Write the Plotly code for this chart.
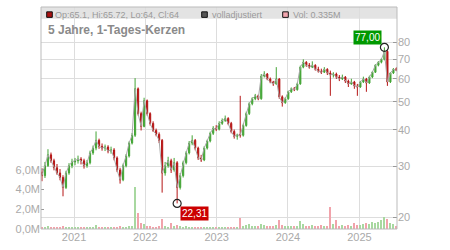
import math
import pandas as pd
import plotly.graph_objects as go

# ---------------- data ----------------
dates = pd.date_range("2020-07-21", "2025-07-09", periods=119)

opens = [28.6, 27.8, 30.1, 32.8, 31.3, 29.6, 28.4, 27.4, 25.3, 28.4,
         30.1, 31.0, 31.3, 31.7, 31.3, 30.1, 30.8, 33.3, 34.6, 36.8,
         35.1, 34.6, 34.9, 33.8, 34.1, 32.0, 29.1, 26.9, 30.1, 32.5,
         36.0, 38.3, 55.4, 45.5, 41.1, 50.4, 45.5, 42.1, 39.8, 38.6,
         36.8, 28.4, 30.1, 31.3, 29.1, 30.8, 25.3, 27.8, 30.8, 33.3,
         36.0, 36.8, 34.6, 32.0, 31.5, 34.6, 36.6, 38.9, 40.5, 40.2,
         42.1, 43.1, 43.8, 42.1, 39.5, 38.0, 38.6, 38.3, 41.4, 45.5,
         49.2, 51.2, 52.4, 51.2, 61.3, 62.3, 59.9, 58.5, 57.6, 59.9,
         52.0, 49.6, 51.2, 54.1, 55.4, 55.0, 57.6, 65.8, 68.4, 66.8,
         65.8, 66.8, 64.7, 63.7, 63.2, 64.7, 62.8, 61.8, 62.3, 60.8,
         59.9, 60.8, 58.9, 57.6, 58.5, 56.7, 56.2, 58.5, 59.9, 58.0,
         60.8, 63.2, 66.8, 68.4, 70.0, 74.6, 58.5, 62.8, 65.1]

highs = [29.5, 31.0, 34.3, 33.4, 31.8, 30.5, 29.3, 27.9, 28.9, 30.7,
         31.8, 32.0, 32.6, 32.2, 31.8, 31.5, 33.9, 35.3, 39.5, 37.3,
         35.9, 35.6, 35.4, 35.0, 34.6, 32.4, 29.6, 30.6, 33.0, 36.5,
         39.0, 60.3, 56.0, 46.2, 51.6, 50.9, 46.0, 42.8, 40.4, 39.2,
         37.2, 31.0, 32.3, 31.8, 32.0, 31.2, 28.4, 31.3, 33.8, 36.6,
         38.3, 37.2, 35.0, 32.8, 35.1, 37.0, 39.4, 41.2, 41.5, 42.8,
         43.8, 44.8, 44.2, 42.6, 40.1, 38.8, 52.4, 42.0, 46.2, 49.8,
         51.8, 53.2, 52.9, 62.3, 63.7, 62.8, 60.6, 59.0, 65.8, 60.3,
         52.6, 51.8, 54.6, 56.0, 56.2, 58.2, 66.6, 70.0, 69.0, 68.0,
         68.9, 67.3, 66.0, 65.0, 65.8, 65.2, 64.0, 63.2, 63.0, 61.8,
         62.0, 61.3, 59.6, 60.0, 59.0, 57.6, 59.0, 61.0, 60.4, 61.5,
         63.7, 67.3, 69.0, 70.6, 77.0, 75.2, 63.2, 65.3, 65.72]

lows = [26.6, 27.3, 29.8, 30.8, 29.0, 28.0, 26.8, 23.6, 25.0, 28.0,
        29.5, 30.2, 30.6, 30.4, 29.4, 29.6, 30.4, 32.8, 34.0, 34.4,
        33.9, 33.8, 33.2, 33.1, 31.4, 28.6, 26.1, 26.6, 29.7, 32.1,
        35.6, 37.8, 44.8, 39.8, 40.8, 44.8, 41.4, 39.3, 38.0, 36.0,
        24.3, 27.8, 29.6, 28.4, 28.7, 22.31, 24.9, 27.4, 30.4, 32.9,
        35.4, 34.0, 31.5, 31.0, 31.2, 34.2, 36.2, 38.4, 39.6, 39.8,
        41.6, 42.6, 41.5, 38.9, 37.3, 37.0, 37.6, 37.9, 41.0, 45.0,
        48.6, 50.6, 50.6, 50.8, 60.6, 59.3, 57.9, 56.7, 57.2, 51.2,
        48.1, 49.2, 50.8, 53.6, 54.4, 54.6, 57.2, 65.2, 66.0, 65.0,
        65.3, 64.0, 63.0, 62.3, 62.8, 61.8, 52.4, 60.6, 59.9, 58.9,
        59.4, 58.0, 56.2, 57.2, 55.4, 52.4, 55.8, 58.0, 54.1, 57.6,
        60.3, 62.8, 66.2, 67.8, 69.4, 56.7, 58.0, 62.3, 64.0]

closes = [27.8, 30.1, 32.8, 31.3, 29.6, 28.4, 27.4, 25.3, 28.4, 30.1,
          31.0, 31.3, 31.7, 31.3, 30.1, 30.8, 33.3, 34.6, 36.8, 35.1,
          34.6, 34.9, 33.8, 34.1, 32.0, 29.1, 26.9, 30.1, 32.5, 36.0,
          38.3, 55.4, 45.5, 41.1, 50.4, 45.5, 42.1, 39.8, 38.6, 36.8,
          28.4, 30.1, 31.3, 29.1, 30.8, 25.3, 27.8, 30.8, 33.3, 36.0,
          36.8, 34.6, 32.0, 31.5, 34.6, 36.6, 38.9, 40.5, 40.2, 42.1,
          43.1, 43.8, 42.1, 39.5, 38.0, 38.4, 38.3, 41.4, 45.5, 49.2,
          51.2, 52.4, 51.2, 61.3, 62.3, 59.9, 58.5, 57.6, 59.9, 52.0,
          49.6, 51.2, 54.1, 55.4, 55.0, 57.6, 65.8, 68.4, 66.8, 65.8,
          66.8, 64.7, 63.7, 63.2, 64.7, 62.8, 61.8, 62.3, 60.8, 59.9,
          60.8, 58.9, 57.6, 58.5, 56.7, 56.2, 58.5, 59.9, 58.0, 60.8,
          63.2, 66.8, 68.4, 70.0, 74.6, 58.5, 62.8, 64.7, 64.0]

volumes = [0.2, 0.25, 0.3, 0.15, 0.2, 0.15, 0.2, 0.3, 0.25, 0.2,
           0.15, 0.2, 0.2, 0.15, 0.2, 0.15, 0.25, 0.2, 0.45, 0.2,
           0.15, 0.2, 0.15, 0.2, 0.15, 0.2, 0.3, 0.2, 0.25, 0.3,
           0.35, 4.3, 1.6, 0.6, 0.5, 0.35, 0.3, 0.25, 0.2, 0.3,
           1.0, 0.3, 0.25, 0.6, 0.3, 0.45, 0.3, 0.25, 0.3, 0.25,
           0.2, 0.2, 0.25, 0.2, 0.2, 0.25, 0.2, 0.2, 0.15, 0.2,
           0.2, 0.2, 0.25, 0.2, 0.25, 0.2, 1.1, 0.35, 0.4, 0.5,
           0.3, 0.35, 0.3, 0.5, 0.4, 0.35, 0.3, 0.3, 0.45, 0.9,
           0.4, 0.3, 0.35, 0.3, 0.3, 0.35, 0.8, 0.5, 0.35, 0.3,
           0.4, 0.35, 0.3, 0.4, 0.35, 0.3, 2.2, 0.5, 0.9, 0.35,
           0.4, 0.3, 0.4, 0.35, 0.6, 0.4, 0.45, 0.5, 0.6, 0.5,
           0.7, 0.6, 0.7, 0.9, 1.2, 1.0, 0.6, 0.5, 0.335]

year_ticks = ["2021-01-01", "2022-01-01", "2023-01-01", "2024-01-01", "2025-01-01"]
year_labels = ["2021", "2022", "2023", "2024", "2025"]
price_ticks = [20, 30, 40, 50, 60, 70, 80]
vol_ticks = [0, 2, 4, 6]
vol_labels = ["0,0M", "2,0M", "4,0M", "6,0M"]
title_text = "5 Jahre, 1-Tages-Kerzen"
legend_ohlc = "Op:65.1, Hi:65.72, Lo:64, Cl:64"
legend_adj = "volladjustiert"
legend_vol = "Vol: 0.335M"

# ---------------- styles ----------------
UP = "#43a535"
DOWN = "#b51515"
VOL_UP = "#a8d8a0"
VOL_DOWN = "#f1a3ab"
FONT = "Liberation Sans, Arial, sans-serif"

W, H = 450, 250
ML, MR, MT, MB = 41, 53, 7, 18
PW, PH = W - ML - MR, H - MT - MB


def px(x):
    return (x - ML) / PW


def py(y):
    return (H - MB - y) / PH


fig = go.Figure()

vol_colors = [VOL_UP if c >= o else VOL_DOWN for o, c in zip(opens, closes)]
fig.add_trace(go.Bar(x=dates, y=volumes, yaxis="y",
                     marker=dict(color=vol_colors, line=dict(width=0)),
                     width=7 * 86400000, hoverinfo="skip"))

fig.add_trace(go.Scatter(x=dates, y=closes, yaxis="y2", mode="lines",
                         line=dict(color="#a8a8a8", width=1), hoverinfo="skip"))

fig.add_trace(go.Candlestick(
    x=dates, open=opens, high=highs, low=lows, close=closes, yaxis="y2",
    increasing=dict(line=dict(color=UP, width=1), fillcolor=UP),
    decreasing=dict(line=dict(color=DOWN, width=1), fillcolor=DOWN),
    whiskerwidth=0))

i_lo = min(range(len(lows)), key=lambda i: lows[i])
i_hi = max(range(len(highs)), key=lambda i: highs[i])
fig.add_trace(go.Scatter(
    x=[dates[i_lo], dates[i_hi]], y=[lows[i_lo], highs[i_hi]], yaxis="y2",
    mode="markers",
    marker=dict(symbol="circle-open", size=8, color="#222222", line=dict(width=1.2)),
    hoverinfo="skip"))

shapes = [
    # legend band
    dict(type="rect", xref="paper", yref="paper", x0=0, x1=1, y0=py(19), y1=1,
         fillcolor="#e3e3e3", line=dict(width=0), layer="below"),
    # plot border
    dict(type="rect", xref="paper", yref="paper", x0=0, x1=1, y0=0, y1=1,
         line=dict(color="#bbbbbb", width=1), layer="above"),
]
sq = [(46.7, "#aa1111"), (201.7, "#555555"), (282.7, "#f2a6ae")]
for x0, col in sq:
    shapes.append(dict(type="rect", xref="paper", yref="paper",
                       x0=px(x0), x1=px(x0 + 5.6), y0=py(17.5), y1=py(11.9),
                       fillcolor=col, line=dict(color="#111111", width=1), layer="above"))

annotations = [
    dict(text="<b>" + title_text + "</b>", xref="paper", yref="paper", x=px(46), y=py(30.5),
         xanchor="left", yanchor="middle", showarrow=False,
         font=dict(family=FONT, size=12, color="#8a8a8a")),
    dict(text=legend_ohlc, xref="paper", yref="paper", x=px(52.5), y=py(14.7),
         xanchor="left", yanchor="middle", showarrow=False,
         font=dict(family=FONT, size=9, color="#9a9a9a")),
    dict(text=legend_adj, xref="paper", yref="paper", x=px(209.5), y=py(14.7),
         xanchor="left", yanchor="middle", showarrow=False,
         font=dict(family=FONT, size=9, color="#9a9a9a")),
    dict(text=legend_vol, xref="paper", yref="paper", x=px(291), y=py(14.7),
         xanchor="left", yanchor="middle", showarrow=False,
         font=dict(family=FONT, size=9, color="#9a9a9a")),
    dict(text=f"{highs[i_hi]:.2f}".replace(".", ","), x=dates[i_hi], y=math.log10(highs[i_hi]),
         xref="x", yref="y2", xanchor="right", yanchor="bottom", xshift=-2, yshift=2,
         showarrow=False, bgcolor="#009900", borderpad=1,
         font=dict(family=FONT, size=10, color="white")),
    dict(text=f"{lows[i_lo]:.2f}".replace(".", ","), x=dates[i_lo], y=math.log10(lows[i_lo]),
         xref="x", yref="y2", xanchor="left", yanchor="top", xshift=3, yshift=-3,
         showarrow=False, bgcolor="#cc0000", borderpad=1,
         font=dict(family=FONT, size=10, color="white")),
]

lo_log = math.log10(20) - 12 / 294
hi_log = math.log10(20) + 213 / 294

fig.update_layout(
    width=W, height=H, margin=dict(l=ML, r=MR, t=MT, b=MB),
    paper_bgcolor="white", plot_bgcolor="white", showlegend=False,
    font=dict(family=FONT, size=11, color="#aaaaaa"),
    boxgap=0.45, bargap=0,
    xaxis=dict(type="date", range=["2020-07-16", "2025-07-12"],
               tickvals=year_ticks, ticktext=year_labels,
               showgrid=True, gridcolor="#dddddd", gridwidth=1,
               zeroline=False, showline=False, ticks="",
               rangeslider=dict(visible=False), tickfont=dict(size=11)),
    yaxis=dict(range=[0, 22.5], side="left", tickvals=vol_ticks, ticktext=vol_labels,
               showgrid=False, zeroline=False, showline=False,
               ticks="inside", ticklen=3, tickcolor="#999999"),
    yaxis2=dict(type="log", overlaying="y", side="right", range=[lo_log, hi_log],
                tickvals=price_ticks, ticktext=[str(v) for v in price_ticks],
                showgrid=True, gridcolor="#dddddd", gridwidth=1, zeroline=False,
                showline=False, ticks="inside", ticklen=4, tickcolor="#999999"),
    shapes=shapes, annotations=annotations,
)

fig.write_html("out.html")
